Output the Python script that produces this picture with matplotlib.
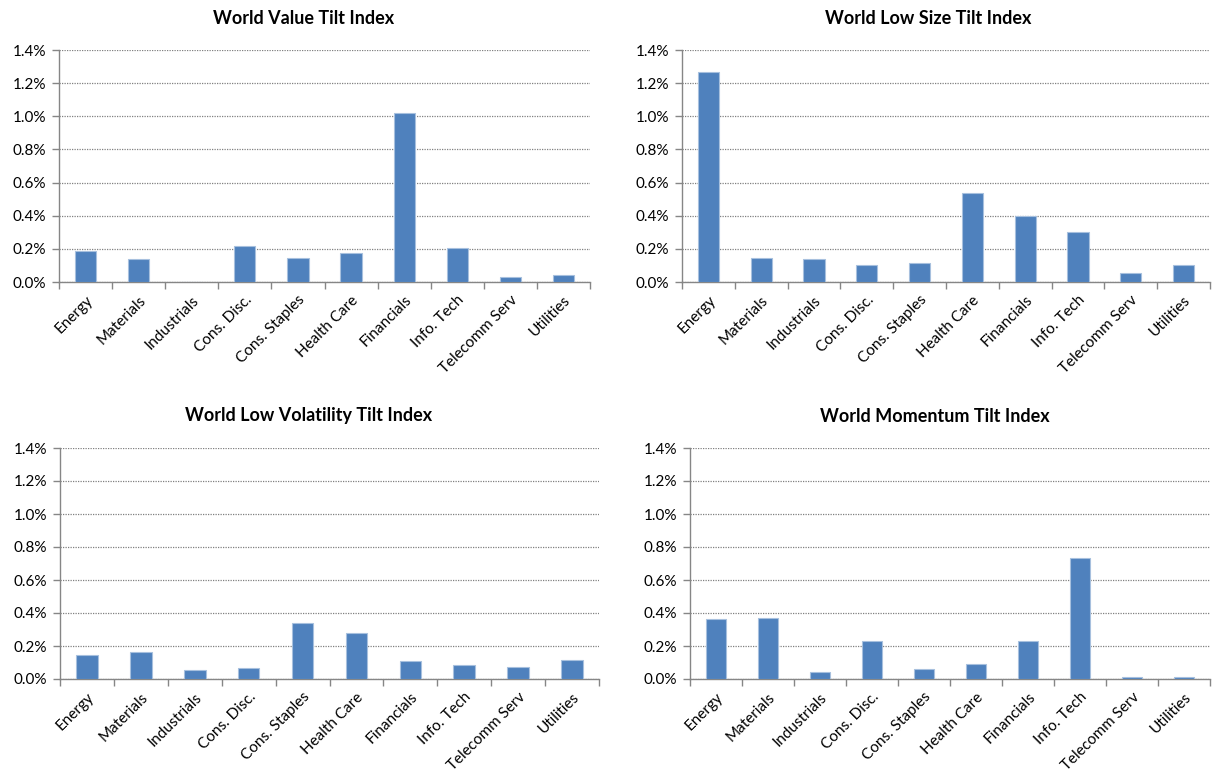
import numpy as np
import matplotlib.pyplot as plt
from matplotlib.ticker import FuncFormatter

plt.rcParams['font.family'] = ['Lato', 'DejaVu Sans']

sectors = ['Energy', 'Materials', 'Industrials', 'Cons. Disc.', 'Cons. Staples',
           'Health Care', 'Financials', 'Info. Tech', 'Telecomm Serv', 'Utilities']

# sector tilt (%) per index
value_tilt = [0.19, 0.14, 0.003, 0.22, 0.147, 0.177, 1.02, 0.205, 0.028, 0.044]
low_size_tilt = [1.27, 0.145, 0.137, 0.10, 0.115, 0.538, 0.397, 0.30, 0.057, 0.10]
low_vol_tilt = [0.143, 0.164, 0.052, 0.067, 0.341, 0.281, 0.109, 0.087, 0.073, 0.117]
momentum_tilt = [0.364, 0.37, 0.044, 0.23, 0.058, 0.088, 0.23, 0.733, 0.01, 0.01]

titles = ['World Value Tilt Index', 'World Low Size Tilt Index',
          'World Low Volatility Tilt Index', 'World Momentum Tilt Index']
yticks = [0.0, 0.2, 0.4, 0.6, 0.8, 1.0, 1.2, 1.4]

W, H = 1215, 772
fig = plt.figure(figsize=(W / 100, H / 100), dpi=100)

# axes boxes in pixels: left, right, top, bottom
boxes = [(59, 590, 50, 282), (682, 1210, 50, 282),
         (60, 599, 448, 679), (690, 1210, 448, 679)]
title_pos = [(304, 18), (928, 18), (309, 416), (935, 416)]
data = [value_tilt, low_size_tilt, low_vol_tilt, momentum_tilt]

axis_grey = '#868686'
x = np.arange(len(sectors))

for (l, r, t, b), vals, title, (tx, ty) in zip(boxes, data, titles, title_pos):
    ax = fig.add_axes([l / W, 1 - b / H, (r - l) / W, (b - t) / H])
    ax.bar(x, vals, width=0.4, color='#4F81BD', edgecolor='#A7C0DE',
           linewidth=0.8, zorder=3)
    ax.set_xlim(-0.5, len(sectors) - 0.5)
    ax.set_ylim(0, 1.4)
    ax.set_yticks(yticks)
    ax.yaxis.set_major_formatter(FuncFormatter(lambda v, p: f'{v:.1f}%'))
    ax.yaxis.grid(True, color='#808080', linestyle=(0, (1, 1)), linewidth=0.9, zorder=0)
    ax.set_xticks(x)
    ax.set_xticklabels(sectors, rotation=45, ha='right', rotation_mode='anchor')
    ax.tick_params(axis='x', length=0, pad=8, labelsize=11, colors='black')
    ax.set_xticks(np.arange(-0.5, len(sectors)), minor=True)
    ax.tick_params(axis='x', which='minor', length=5, color=axis_grey, width=1)
    ax.tick_params(axis='y', length=5, color=axis_grey, width=1, labelsize=11, pad=4)
    for s in ['top', 'right']:
        ax.spines[s].set_visible(False)
    for s in ['left', 'bottom']:
        ax.spines[s].set_color(axis_grey)
        ax.spines[s].set_linewidth(1)
    fig.text(tx / W, 1 - ty / H, title, ha='center', va='center',
             fontsize=13, fontweight='bold')

fig.savefig('out.png', dpi=100, facecolor='white')
